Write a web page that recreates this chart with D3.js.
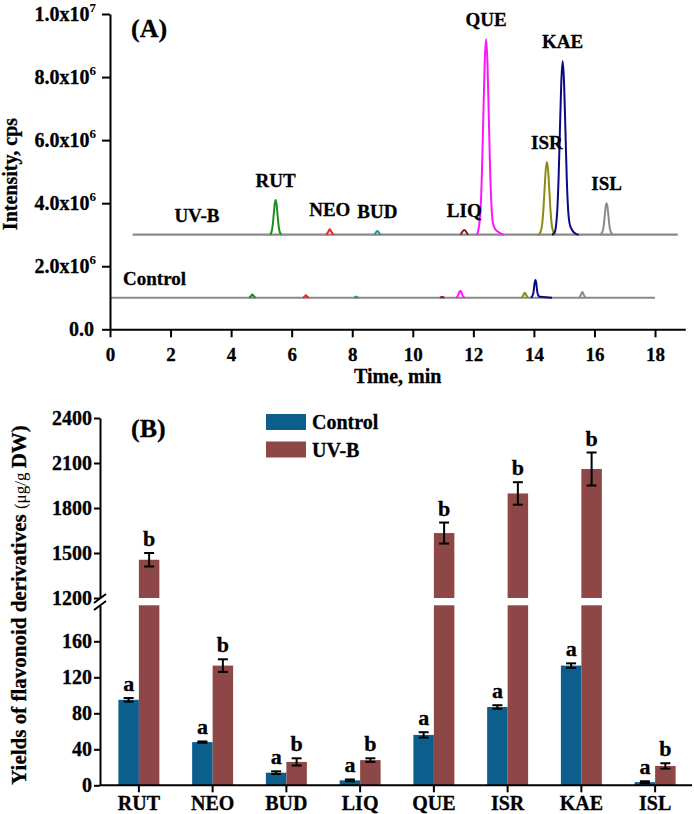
<!DOCTYPE html>
<html>
<head>
<meta charset="utf-8">
<script src="https://cdn.jsdelivr.net/npm/d3@7/dist/d3.min.js"></script>
<style>
  html, body { margin: 0; padding: 0; background: #fff; }
  svg { display: block; }
  text { font-family: "Liberation Serif", "Times New Roman", serif; font-weight: bold; fill: #000; stroke: #000; stroke-width: 0.3px; }
</style>
</head>
<body>
<svg id="chart" width="694" height="814"></svg>
<script>
// ---------------- DATA ----------------
const compounds = ["RUT", "NEO", "BUD", "LIQ", "QUE", "ISR", "KAE", "ISL"];
const compoundColors = ["#1e8c1e", "#e8232a", "#2a8f8f", "#8b1a1a", "#ff14ff", "#8c8c14", "#0a0a82", "#8a8a8a"];

// Panel A: chromatograms (time, min ; intensity, x10^6 cps)
const timeTicks = [0, 2, 4, 6, 8, 10, 12, 14, 16, 18];
const intensityTicks = [0, 2, 4, 6, 8, 10];
const uvbBaseline = [[0.75, 3.0], [18.75, 3.0]];
const controlBaseline = [[0, 1.0], [18, 1.0]];

const uvbTraces = [
  [[5.29,3.0],[5.35,3.15],[5.38,3.36],[5.41,3.67],[5.44,3.97],[5.47,4.1],[5.50,3.97],[5.53,3.67],[5.56,3.36],[5.59,3.15],[5.65,3.0]],
  [[7.14,3.0],[7.2,3.08],[7.26,3.17],[7.32,3.08],[7.38,3.0]],
  [[8.73,3.0],[8.78,3.07],[8.83,3.12],[8.88,3.07],[8.93,3.0]],
  [[11.58,3.0],[11.64,3.1],[11.7,3.15],[11.76,3.1],[11.82,3.0]],
  [[12.12,3.0],[12.15,3.07],[12.24,3.84],[12.285,5.02],[12.33,6.76],[12.375,8.47],[12.42,9.2],[12.465,8.47],[12.51,6.76],[12.555,5.02],[12.6,3.9],[12.64,3.4],[12.72,3.18],[12.85,3.07],[13.0,3.0]],
  [[14.15,3.0],[14.19,3.03],[14.27,3.31],[14.31,3.75],[14.35,4.40],[14.39,5.04],[14.43,5.31],[14.47,5.04],[14.51,4.40],[14.55,3.75],[14.59,3.31],[14.67,3.03],[14.72,3.0]],
  [[14.6,3.0],[14.68,3.06],[14.77,3.74],[14.815,4.79],[14.86,6.34],[14.905,7.85],[14.95,8.5],[14.995,7.85],[15.04,6.34],[15.085,4.79],[15.13,3.8],[15.18,3.35],[15.26,3.15],[15.38,3.03],[15.48,3.0]],
  [[16.2,3.0],[16.28,3.14],[16.31,3.32],[16.34,3.61],[16.37,3.88],[16.4,4.0],[16.43,3.88],[16.46,3.61],[16.49,3.32],[16.52,3.14],[16.6,3.0]]
];
const controlTraces = [
  [[4.6,1.0],[4.65,1.05],[4.7,1.1],[4.75,1.05],[4.8,1.0]],
  [[6.38,1.0],[6.43,1.04],[6.47,1.08],[6.51,1.04],[6.56,1.0]],
  [[8.06,1.0],[8.1,1.02],[8.13,1.04],[8.16,1.02],[8.2,1.0]],
  [[10.9,1.0],[10.94,1.02],[10.97,1.03],[11.0,1.02],[11.04,1.0]],
  [[11.43,1.0],[11.49,1.06],[11.53,1.16],[11.57,1.22],[11.61,1.16],[11.65,1.06],[11.71,1.0]],
  [[13.6,1.0],[13.65,1.08],[13.7,1.16],[13.75,1.08],[13.8,1.0]],
  [[13.9,1.0],[13.96,1.08],[13.99,1.2],[14.02,1.45],[14.05,1.56],[14.08,1.45],[14.11,1.2],[14.14,1.08],[14.2,1.03],[14.4,1.02],[14.6,1.0]],
  [[15.5,1.0],[15.55,1.09],[15.6,1.18],[15.65,1.09],[15.7,1.0]]
];
const traceLabels = [{text: "UV-B", t: 2.87, v: 3.0}, {text: "Control", t: 1.47, v: 1.0}];

// Panel B: yields (µg/g DW)
const series = ["Control", "UV-B"];
const seriesColors = ["#0c5f8d", "#8e4747"];
const controlMeans = [95, 48, 14, 5.5, 56, 87, 133, 3.5];
const controlErr   = [2, 0.7, 1.5, 1, 3, 2, 2.5, 1];
const uvbMeans     = [1455, 133, 26, 28, 1633, 1897, 2060, 21.5];
const uvbErr       = [45, 7, 4, 2, 70, 75, 110, 3];
const controlLetters = ["a", "a", "a", "a", "a", "a", "a", "a"];
const uvbLetters     = ["b", "b", "b", "b", "b", "b", "b", "b"];
const lowTicks  = [0, 40, 80, 120, 160];
const highTicks = [1200, 1500, 1800, 2100, 2400];
const lowDomain  = [0, 200];
const highDomain = [1200, 2400];

// ---------------- DRAW ----------------
const svg = d3.select("#chart");
svg.append("rect").attr("width", 694).attr("height", 814).attr("fill", "#fff");

function styleAxis(g, fs) {
  g.attr("font-family", null).attr("font-size", null);
  g.selectAll("path, line").attr("stroke", "#000").attr("stroke-width", 2);
  g.selectAll("text").style("font-size", fs + "px");
}

// ===== Panel A =====
const xA = d3.scaleLinear().domain([0, 19]).range([110, 685.3]);
const yA = d3.scaleLinear().domain([0, 10]).range([329.3, 14]);
const gA = svg.append("g");

const lineA = d3.line().x(d => xA(d[0])).y(d => yA(d[1])).curve(d3.curveMonotoneX);

[uvbBaseline, controlBaseline].forEach(b => {
  gA.append("path").attr("d", lineA(b)).attr("fill", "none")
    .attr("stroke", "#8a8a8a").attr("stroke-width", 2.2);
});
[controlTraces, uvbTraces].forEach(traces => {
  traces.forEach((tr, i) => {
    gA.append("path").attr("d", lineA(tr)).attr("fill", "none")
      .attr("stroke", compoundColors[i]).attr("stroke-width", 2).attr("stroke-linejoin", "round");
  });
});
uvbTraces.forEach((tr, i) => {
  const apex = tr.reduce((a, b) => (b[1] > a[1] ? b : a));
  gA.append("text").attr("x", xA(apex[0])).attr("y", yA(apex[1]) - 13)
    .attr("text-anchor", "middle").style("font-size", "19px").text(compounds[i]);
});
traceLabels.forEach(l => {
  gA.append("text").attr("x", xA(l.t)).attr("y", yA(l.v) - 13)
    .attr("text-anchor", "middle").style("font-size", "19px").text(l.text);
});

const axAx = gA.append("g").attr("transform", `translate(0,${yA(0)})`)
  .call(d3.axisBottom(xA).tickValues(timeTicks).tickSize(8).tickSizeOuter(0).tickPadding(10).tickFormat(d3.format("d")));
styleAxis(axAx, 19);
const axAy = gA.append("g").attr("transform", `translate(${xA(0)},0)`)
  .call(d3.axisLeft(yA).tickValues(intensityTicks).tickSize(8).tickSizeOuter(0).tickFormat(""));
styleAxis(axAy, 19);
intensityTicks.forEach(v => {
  const t = gA.append("text").attr("x", 96).attr("y", yA(v) + 6.5).attr("text-anchor", "end").style("font-size", "20px");
  if (v === 0) { t.attr("x", 94).text("0.0"); return; }
  const exp = Math.floor(Math.log10(v * 1e6));
  const mant = (v * 1e6 / Math.pow(10, exp)).toFixed(1);
  t.append("tspan").text(mant + "x10");
  t.append("tspan").attr("dy", -9).style("font-size", "13px").style("stroke-width", "0.1px").text(exp);
});
gA.append("text").attr("transform", `translate(17,${174}) rotate(-90)`).attr("text-anchor", "middle")
  .style("font-size", "20px").text("Intensity, cps");
gA.append("text").attr("x", xA(9.5)).attr("y", 383).attr("text-anchor", "middle")
  .style("font-size", "20px").text("Time, min");
gA.append("text").attr("x", 131).attr("y", 37).style("font-size", "26px").text("(A)");

// ===== Panel B =====
const xB = d3.scaleBand().domain(compounds).range([102, 692]).padding(0);
const xSub = d3.scaleBand().domain(series).range([0, xB.bandwidth()]).paddingInner(0).paddingOuter(0.8);
const yLow = d3.scaleLinear().domain(lowDomain).range([785.3, 605.3]);
const yHigh = d3.scaleLinear().domain(highDomain).range([598, 418]);
const yB = v => (v <= lowDomain[1] ? yLow(v) : yHigh(v));
const gB = svg.append("g");

const barData = [];
compounds.forEach((c, i) => {
  barData.push({c, s: series[0], v: controlMeans[i], e: controlErr[i], l: controlLetters[i], col: seriesColors[0]});
  barData.push({c, s: series[1], v: uvbMeans[i], e: uvbErr[i], l: uvbLetters[i], col: seriesColors[1]});
});

barData.forEach(d => {
  const x = xB(d.c) + xSub(d.s), w = xSub.bandwidth();
  if (d.v <= lowDomain[1]) {
    gB.append("rect").attr("x", x).attr("width", w).attr("y", yLow(d.v)).attr("height", yLow(0) - yLow(d.v)).attr("fill", d.col);
  } else {
    gB.append("rect").attr("x", x).attr("width", w).attr("y", yLow(lowDomain[1])).attr("height", yLow(0) - yLow(lowDomain[1])).attr("fill", d.col);
    gB.append("rect").attr("x", x).attr("width", w).attr("y", yHigh(d.v)).attr("height", yHigh(highDomain[0]) - yHigh(d.v)).attr("fill", d.col);
  }
  const cx = x + w / 2, yt = yB(d.v + d.e), yb = yB(d.v - d.e);
  const eg = gB.append("g").attr("stroke", "#000").attr("stroke-width", 2);
  eg.append("line").attr("x1", cx).attr("x2", cx).attr("y1", yt).attr("y2", yb);
  eg.append("line").attr("x1", cx - 5).attr("x2", cx + 5).attr("y1", yt).attr("y2", yt);
  eg.append("line").attr("x1", cx - 5).attr("x2", cx + 5).attr("y1", yb).attr("y2", yb);
  gB.append("text").attr("x", cx).attr("y", yt - 7).attr("text-anchor", "middle").style("font-size", "22px").text(d.l);
});

const axBx = gB.append("g").attr("transform", `translate(0,${yLow(0)})`)
  .call(d3.axisBottom(xB).tickSize(7).tickSizeOuter(0).tickPadding(4));
styleAxis(axBx, 20);
axBx.select(".domain").attr("d", `M100,0H692`);
const axBl = gB.append("g").attr("transform", "translate(100,0)")
  .call(d3.axisLeft(yLow).tickValues(lowTicks).tickSize(6).tickSizeOuter(0).tickPadding(2).tickFormat(d3.format("d")));
styleAxis(axBl, 20);
const axBh = gB.append("g").attr("transform", "translate(100,0)")
  .call(d3.axisLeft(yHigh).tickValues(highTicks).tickSize(6).tickSizeOuter(0).tickPadding(2).tickFormat(d3.format("d")));
styleAxis(axBh, 20);
[[0, 0], [0, 7]].forEach(o => {
  gB.append("line").attr("x1", 94).attr("y1", 603 + o[1]).attr("x2", 106).attr("y2", 594 + o[1])
    .attr("stroke", "#000").attr("stroke-width", 2);
});

series.forEach((s, i) => {
  gB.append("rect").attr("x", 266).attr("y", 414 + i * 27.5).attr("width", 40).attr("height", 16).attr("fill", seriesColors[i]);
  gB.append("text").attr("x", 312).attr("y", 429 + i * 27.5).style("font-size", "20px").text(s);
});

gB.append("text").attr("x", 131).attr("y", 437).style("font-size", "26px").text("(B)");

const yt = gB.append("text").attr("transform", "translate(26,605) rotate(-90)").attr("text-anchor", "middle").style("font-size", "21px");
yt.append("tspan").text("Yields of flavonoid derivatives ");
yt.append("tspan").style("font-weight", "normal").style("font-size", "17px").style("stroke-width", "0px").text("(\u03bcg/g ");
yt.append("tspan").text("DW)");
</script>
</body>
</html>
